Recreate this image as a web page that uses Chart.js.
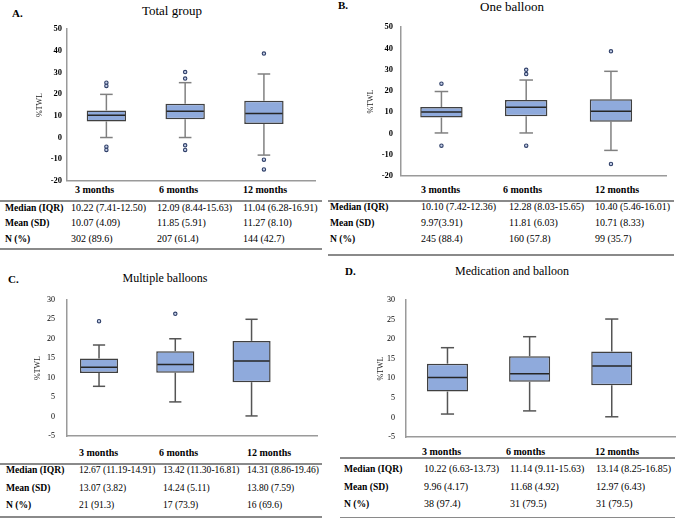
<!DOCTYPE html>
<html><head><meta charset="utf-8">
<script src="https://cdn.jsdelivr.net/npm/chart.js@4.4.1/dist/chart.umd.min.js"></script>
<style>
html,body{margin:0;padding:0;background:#fff;}
#root{position:relative;width:676px;height:518px;overflow:hidden;font-family:"Liberation Serif","Times New Roman",serif;color:#000;}
.t{position:absolute;white-space:nowrap;line-height:12px;}
.c{position:absolute;}
.hl{position:absolute;height:1.5px;background:#8a8a8a;}
</style></head><body><div id="root"></div>
<script>
// ---------- data ----------
const categories = ['3 months', '6 months', '12 months'];
const rowLabels = ['Median (IQR)', 'Mean (SD)', 'N (%)'];

// A. Total group
const aQ1 = [7.41, 8.44, 6.28];
const aMedian = [10.22, 12.09, 11.04];
const aQ3 = [12.50, 15.63, 16.91];
const aLow = [0, 0, -8.1];
const aHigh = [19.9, 25.3, 29.3];
const aOutliers = [[25.3, 23.8, -4.2, -5.7], [30.2, 27.2, -3.6, -5.7], [38.7, -10.2, -14.7]];
const aMedIQR = ['10.22 (7.41-12.50)', '12.09 (8.44-15.63)', '11.04 (6.28-16.91)'];
const aMeanSD = ['10.07 (4.09)', '11.85 (5.91)', '11.27 (8.10)'];
const aN = ['302 (89.6)', '207 (61.4)', '144 (42.7)'];

// B. One balloon
const bQ1 = [7.42, 8.03, 5.46];
const bMedian = [10.10, 12.28, 10.40];
const bQ3 = [12.36, 15.65, 16.01];
const bLow = [0.2, 0.2, -8.0];
const bHigh = [19.7, 25.1, 29.2];
const bOutliers = [[23.4, -5.8], [29.9, 27.9, -5.8], [38.6, -14.4]];
const bMedIQR = ['10.10 (7.42-12.36)', '12.28 (8.03-15.65)', '10.40 (5.46-16.01)'];
const bMeanSD = ['9.97(3.91)', '11.81 (6.03)', '10.71 (8.33)'];
const bN = ['245 (88.4)', '160 (57.8)', '99 (35.7)'];

// C. Multiple balloons
const cQ1 = [11.19, 11.30, 8.86];
const cMedian = [12.67, 13.42, 14.31];
const cQ3 = [14.91, 16.81, 19.46];
const cLow = [7.8, 3.8, 0.2];
const cHigh = [18.4, 20.0, 25.0];
const cOutliers = [[24.5], [26.4], []];
const cMedIQR = ['12.67 (11.19-14.91)', '13.42 (11.30-16.81)', '14.31 (8.86-19.46)'];
const cMeanSD = ['13.07 (3.82)', '14.24 (5.11)', '13.80 (7.59)'];
const cN = ['21 (91.3)', '17 (73.9)', '16 (69.6)'];

// D. Medication and balloon
const dQ1 = [6.63, 9.11, 8.25];
const dMedian = [10.22, 11.14, 13.14];
const dQ3 = [13.73, 15.63, 16.85];
const dLow = [0.9, 1.7, 0.2];
const dHigh = [17.8, 20.6, 25.1];
const dOutliers = [[], [], []];
const dMedIQR = ['10.22 (6.63-13.73)', '11.14 (9.11-15.63)', '13.14 (8.25-16.85)'];
const dMeanSD = ['9.96 (4.17)', '11.68 (4.92)', '12.97 (6.43)'];
const dN = ['38 (97.4)', '31 (79.5)', '31 (79.5)'];

const yTicksAB = { min: -20, max: 50, step: 10 };
const yTicksCD = { min: -5, max: 30, step: 5 };

// ---------- layout / style ----------
const root = document.getElementById('root');
const FILL = '#8faadc';
const SERIF = '"Liberation Serif", "Times New Roman", serif';

const panels = [
  { letter: 'A.', title: 'Total group', q1: aQ1, med: aMedian, q3: aQ3, low: aLow, high: aHigh, out: aOutliers,
    rows: [aMedIQR, aMeanSD, aN], yt: yTicksAB,
    L: 67, R: 320, T: 27, B: 183, yW: 32, tickPad: 5, xmin: 0.5, xmax: 3.66,
    tickFont: { size: 8.5, weight: 'bold' }, whisk: '#808080', edge: '#404040',
    letterPos: [12, 13], titlePos: [172, 11], titleSize: 13,
    tab: { labelX: 5, colX: [71, 157, 243], headX: [75, 159, 243], headY: 190, rowY: [208, 223, 239], lines: [[0, 322, 201], [0, 322, 249]], fs: 10 } },
  { letter: 'B.', title: 'One balloon', q1: bQ1, med: bMedian, q3: bQ3, low: bLow, high: bHigh, out: bOutliers,
    rows: [bMedIQR, bMeanSD, bN], yt: yTicksAB,
    L: 401, R: 671, T: 22, B: 181, yW: 35, tickPad: 8, xmin: 0.523, xmax: 3.66,
    tickFont: { size: 8.5, weight: 'bold' }, whisk: '#808080', edge: '#404040',
    letterPos: [338, 5], titlePos: [512, 7], titleSize: 13,
    tab: { labelX: 330, colX: [421, 509, 595], headX: [421, 503, 595], headY: 190, rowY: [207, 223, 239], lines: [[328, 674, 201], [328, 674, 255]], fs: 10 } },
  { letter: 'C.', title: 'Multiple balloons', q1: cQ1, med: cMedian, q3: cQ3, low: cLow, high: cHigh, out: cOutliers,
    rows: [cMedIQR, cMeanSD, cN], yt: yTicksCD,
    L: 67, R: 322, T: 291, B: 445, yW: 34, tickPad: 12, xmin: 0.58, xmax: 3.87,
    tickFont: { size: 8, weight: 'normal' }, whisk: '#555555', edge: '#404040',
    letterPos: [8, 279], titlePos: [165, 278], titleSize: 12,
    tab: { labelX: 6, colX: [79, 163, 247], headX: [79, 159, 247], headY: 453, rowY: [470, 488, 505], lines: [[0, 322, 464], [0, 322, 517]], fs: 9.6 } },
  { letter: 'D.', title: 'Medication and balloon', q1: dQ1, med: dMedian, q3: dQ3, low: dLow, high: dHigh, out: dOutliers,
    rows: [dMedIQR, dMeanSD, dN], yt: yTicksCD,
    L: 406, R: 675, T: 292, B: 445, yW: 30, tickPad: 11, xmin: 0.495, xmax: 3.77,
    tickFont: { size: 8, weight: 'normal' }, whisk: '#555555', edge: '#404040',
    letterPos: [345, 271], titlePos: [512, 271], titleSize: 12,
    tab: { labelX: 344, colX: [424, 510, 596], headX: [422, 506, 595], headY: 452, rowY: [469, 487, 504], lines: [[340, 675, 458], [340, 675, 518]], fs: 10 } }
];

function addText(txt, x, y, size, bold, center) {
  const d = document.createElement('div');
  d.className = 't';
  d.textContent = txt;
  d.style.left = x + 'px';
  d.style.top = (y - 6) + 'px';
  d.style.fontSize = size + 'px';
  if (bold) d.style.fontWeight = 'bold';
  if (center) d.style.transform = 'translateX(-50%)';
  root.appendChild(d);
}
function addLine(x1, x2, y) {
  const d = document.createElement('div');
  d.className = 'hl';
  d.style.left = x1 + 'px';
  d.style.width = (x2 - x1) + 'px';
  d.style.top = (y - 0.75) + 'px';
  root.appendChild(d);
}

const boxPlugin = {
  id: 'boxWhisker',
  beforeDatasetsDraw(chart, args, o) {
    const { ctx, scales: { x, y } } = chart;
    const p = o.panel;
    ctx.save();
    ctx.strokeStyle = p.whisk;
    ctx.lineWidth = 1.5;
    p.low.forEach((lo, i) => {
      const xc = x.getPixelForValue(i + 1);
      const cw = (x.getPixelForValue(i + 1 + 0.08) - xc);
      const segs = [[lo, p.q1[i]], [p.q3[i], p.high[i]]];
      segs.forEach(([a, b]) => {
        ctx.beginPath(); ctx.moveTo(xc, y.getPixelForValue(a)); ctx.lineTo(xc, y.getPixelForValue(b)); ctx.stroke();
      });
      [lo, p.high[i]].forEach(v => {
        const yy = y.getPixelForValue(v);
        ctx.beginPath(); ctx.moveTo(xc - cw, yy); ctx.lineTo(xc + cw, yy); ctx.stroke();
      });
    });
    ctx.restore();
  },
  afterDatasetsDraw(chart, args, o) {
    const { ctx, scales: { x, y } } = chart;
    const p = o.panel;
    ctx.save();
    ctx.strokeStyle = '#262626';
    ctx.lineWidth = 1.5;
    p.med.forEach((m, i) => {
      const yy = y.getPixelForValue(m);
      ctx.beginPath();
      ctx.moveTo(x.getPixelForValue(i + 0.75) + 1, yy);
      ctx.lineTo(x.getPixelForValue(i + 1.25) - 1, yy);
      ctx.stroke();
    });
    ctx.restore();
  }
};

panels.forEach((p) => {
  addText(p.letter, p.letterPos[0], p.letterPos[1], 11, true, false);
  addText(p.title, p.titlePos[0], p.titlePos[1], p.titleSize, false, true);
  const tb = p.tab;
  categories.forEach((c, i) => addText(c, tb.headX[i], tb.headY, 10, true, false));
  rowLabels.forEach((r, j) => {
    addText(r, tb.labelX, tb.rowY[j], 9.6, true, false);
    p.rows[j].forEach((v, i) => addText(v, tb.colX[i], tb.rowY[j], tb.fs, false, false));
  });
  tb.lines.forEach(l => addLine(l[0], l[1], l[2]));

  const padT = 8, padB = 8, padR = 1;
  const wrap = document.createElement('div');
  wrap.className = 'c';
  const cw = (p.R - p.L) + p.yW + padR;
  const ch = (p.B - p.T) + padT + padB;
  wrap.style.left = (p.L - p.yW) + 'px';
  wrap.style.top = (p.T - padT) + 'px';
  wrap.style.width = cw + 'px';
  wrap.style.height = ch + 'px';
  const cv = document.createElement('canvas');
  wrap.appendChild(cv);
  root.appendChild(wrap);

  const boxData = categories.map((c, i) => ({ x: i + 1, y: [p.q1[i], p.q3[i]] }));
  const outData = [];
  p.out.forEach((arr, i) => arr.forEach(v => outData.push({ x: i + 1, y: v })));

  new Chart(cv, {
    type: 'bar',
    data: {
      datasets: [
        { type: 'bar', label: 'IQR', data: boxData, backgroundColor: FILL, borderColor: p.edge, borderWidth: 1.5,
          borderSkipped: false, barPercentage: 0.5, categoryPercentage: 1.0, order: 2 },
        { type: 'scatter', label: 'Outliers', data: outData, pointRadius: 1.7, pointBorderWidth: 1.1,
          pointBorderColor: '#2f3f68', pointBackgroundColor: '#c8d2ea', showLine: false, order: 1 }
      ]
    },
    options: {
      responsive: true, maintainAspectRatio: false, animation: false,
      layout: { padding: { top: padT, bottom: padB, left: 0, right: padR } },
      plugins: { legend: { display: false }, tooltip: { enabled: false }, title: { display: false }, boxWhisker: { panel: p } },
      scales: {
        x: { type: 'linear', min: p.xmin, max: p.xmax, offset: false,
             grid: { display: false, drawTicks: false }, ticks: { display: false },
             border: { display: true, color: '#9a9a9a', width: 1.5 },
             afterBuildTicks: s => { s.ticks = categories.map((c, i) => ({ value: i + 1 })); },
             afterFit: s => { s.height = 0; } },
        y: { type: 'linear', min: p.yt.min, max: p.yt.max,
             grid: { display: false, drawTicks: false },
             ticks: { stepSize: p.yt.step, padding: p.tickPad, color: '#000',
                      font: { family: SERIF, size: p.tickFont.size, weight: p.tickFont.weight } },
             border: { display: true, color: '#9a9a9a', width: 1.5 },
             title: { display: true, text: '%TWL', color: '#222', padding: 0,
                      font: { family: SERIF, size: 8 } },
             afterFit: s => { s.width = p.yW; } }
      }
    },
    plugins: [boxPlugin]
  });
});
</script></body></html>
